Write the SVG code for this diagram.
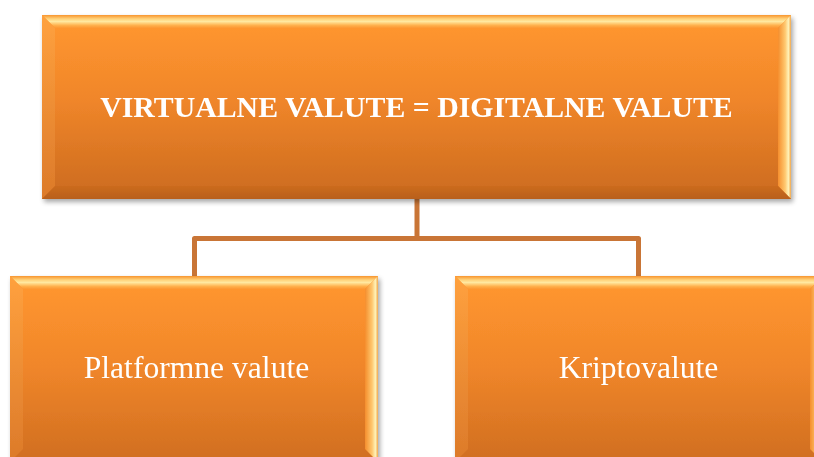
<svg xmlns="http://www.w3.org/2000/svg" width="814" height="457" viewBox="0 0 814 457">
<defs>
<linearGradient id="face" x1="0" y1="0" x2="0" y2="1">
<stop offset="0" stop-color="#FE952F"/>
<stop offset="0.45" stop-color="#F0862A"/>
<stop offset="1" stop-color="#D06E20"/>
</linearGradient>
<linearGradient id="bt" x1="0" y1="0" x2="0" y2="1">
<stop offset="0" stop-color="#F8952E"/>
<stop offset="0.3" stop-color="#FFD27A"/>
<stop offset="0.5" stop-color="#FFE8A0"/>
<stop offset="0.8" stop-color="#FFB04C"/>
<stop offset="1" stop-color="#FC9733"/>
</linearGradient>
<linearGradient id="bl" x1="0" y1="0" x2="0" y2="1">
<stop offset="0" stop-color="#FFA13E"/>
<stop offset="1" stop-color="#DC7A2A"/>
</linearGradient>
<linearGradient id="br" x1="0" y1="0" x2="1" y2="0">
<stop offset="0" stop-color="#F58E2C"/>
<stop offset="0.55" stop-color="#FFC870"/>
<stop offset="0.8" stop-color="#FFF2B8"/>
<stop offset="1" stop-color="#F2A64A"/>
</linearGradient>
<linearGradient id="bb" x1="0" y1="0" x2="0" y2="1">
<stop offset="0" stop-color="#CC6B1E"/>
<stop offset="1" stop-color="#B8601A"/>
</linearGradient>
<filter id="sh" x="-5%" y="-5%" width="112%" height="115%">
<feGaussianBlur in="SourceAlpha" stdDeviation="2.5"/>
<feOffset dx="2" dy="3" result="b"/>
<feComponentTransfer><feFuncA type="linear" slope="0.35"/></feComponentTransfer>
<feMerge><feMergeNode/><feMergeNode in="SourceGraphic"/></feMerge>
</filter>
</defs>
<style>
.face{fill:url(#face)}
.bt{fill:url(#bt)}
.bl{fill:url(#bl)}
.br{fill:url(#br)}
.bb{fill:url(#bb)}
.conn{fill:none;stroke:#C97536;stroke-width:5;stroke-linejoin:round}
.t1{font-family:"Liberation Serif","Times New Roman",serif;font-weight:bold;font-size:29.8px;fill:#FFFFFF;text-anchor:middle}
.t2{font-family:"Liberation Serif","Times New Roman",serif;font-size:31.6px;fill:#FFFFFF;text-anchor:middle}
</style>
<rect width="814" height="457" fill="#FFFFFF"/>
<g id="connectors">
<path class="conn" d="M417,199 V238.5 M194.5,276 V238.5 H638.5 V276"/>
</g>
<g id="node-top" filter="url(#sh)">
<rect class="face" x="42" y="15" width="749" height="184"/>
<polygon class="bt" points="42,15 791,15 778,28 55,28"/>
<polygon class="bl" points="42,15 55,28 55,186 42,199"/>
<polygon class="br" points="791,15 791,199 778,186 778,28"/>
<polygon class="bb" points="42,199 55,186 778,186 791,199"/>
<rect class="face" x="55" y="28" width="723" height="158"/>
<text class="t1" x="416.5" y="116.5">VIRTUALNE VALUTE = DIGITALNE VALUTE</text>
</g>
<g id="node-platformne" filter="url(#sh)">
<rect class="face" x="10" y="276" width="368" height="186"/>
<polygon class="bt" points="10,276 378,276 365,289 23,289"/>
<polygon class="bl" points="10,276 23,289 23,449 10,462"/>
<polygon class="br" points="378,276 378,462 365,449 365,289"/>
<rect class="face" x="23" y="289" width="342" height="173"/>
<text class="t2" x="196.5" y="378">Platformne valute</text>
</g>
<g id="node-kripto" filter="url(#sh)">
<rect class="face" x="455" y="276" width="368" height="186"/>
<polygon class="bt" points="455,276 823,276 810,289 468,289"/>
<polygon class="bl" points="455,276 468,289 468,449 455,462"/>
<polygon class="br" points="823,276 823,462 810,449 810,289"/>
<rect class="face" x="468" y="289" width="342" height="173"/>
<text class="t2" x="638.5" y="378">Kriptovalute</text>
</g>
</svg>
